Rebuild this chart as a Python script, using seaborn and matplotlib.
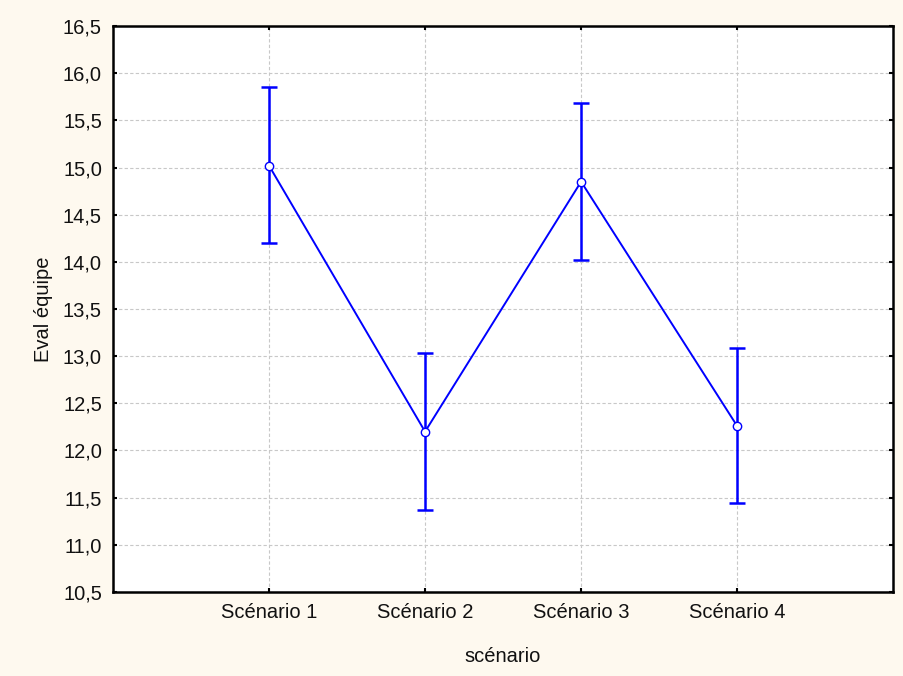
"""
Eval équipe par scénario
"""

import matplotlib
matplotlib.use("Agg")
import matplotlib.pyplot as plt
import matplotlib.ticker as mticker
import pandas as pd
import seaborn as sns

scenarios = ["Scénario 1", "Scénario 2", "Scénario 3", "Scénario 4"]
means = [15.02, 12.20, 14.85, 12.26]
lower = [14.20, 11.37, 14.02, 11.44]
upper = [15.85, 13.03, 15.68, 13.09]

df = pd.DataFrame({"scenario": scenarios, "mean": means})

sns.set_theme(style="white")
plt.rcParams["font.family"] = ["Liberation Sans", "DejaVu Sans"]

fig, ax = plt.subplots(figsize=(9.04, 6.76), dpi=100)
fig.patch.set_facecolor("#FEF9EF")
ax.set_facecolor("white")
fig.subplots_adjust(left=0.125, right=0.988, top=0.9615, bottom=0.1243)

# error bars first, points drawn on top
xs = list(range(len(scenarios)))
err = [[m - lo for m, lo in zip(means, lower)], [hi - m for m, hi in zip(means, upper)]]
ax.errorbar(xs, means, yerr=err, fmt="none", ecolor="#0000FF", elinewidth=1.8,
            capsize=6, capthick=1.8, zorder=3)

sns.pointplot(data=df, x="scenario", y="mean", color="#0000FF", errorbar=None,
              markers="o", linestyles="-", ax=ax, zorder=4,
              markerfacecolor="white", markeredgecolor="#0000FF",
              markersize=6, markeredgewidth=1, linewidth=1.4)

ax.set_xlim(-1, 4)
ax.set_ylim(10.5, 16.5)
ax.yaxis.set_major_locator(mticker.MultipleLocator(0.5))
ax.yaxis.set_major_formatter(mticker.FuncFormatter(lambda v, p: f"{v:.1f}".replace(".", ",")))

ax.grid(True, color="#c8c8c8", linestyle=(0, (3, 2)), linewidth=0.8)
ax.set_axisbelow(True)
for s in ax.spines.values():
    s.set_color("black")
    s.set_linewidth(1.8)
    s.set_visible(True)

ax.tick_params(direction="in", length=3, width=1.5, color="black",
               top=True, right=True, bottom=True, left=True,
               labelsize=14.5, labelcolor="#111111")
ax.tick_params(axis="x", pad=8)
ax.tick_params(axis="y", pad=8)

ax.set_xlabel("scénario", fontsize=14.5, labelpad=18, color="#111111")
ax.set_ylabel("Eval équipe", fontsize=14.5, labelpad=7, color="#111111")

plt.savefig("out.png", dpi=100, facecolor=fig.get_facecolor())
plt.close()
